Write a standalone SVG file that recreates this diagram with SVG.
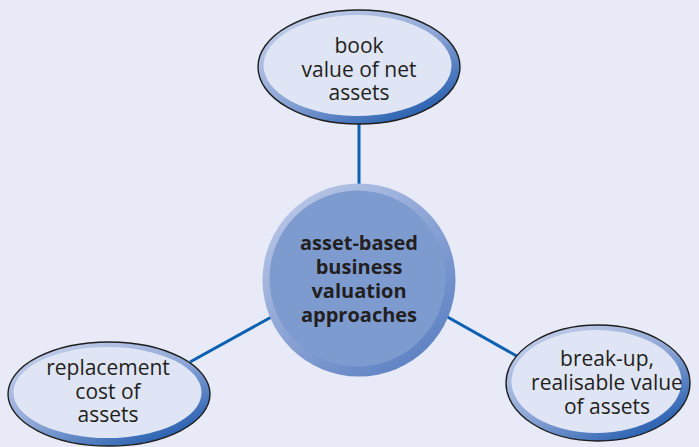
<svg xmlns="http://www.w3.org/2000/svg" width="699" height="447" viewBox="0 0 699 447">
<defs>
<linearGradient id="ring" x1="0.15" y1="0.05" x2="0.85" y2="0.95">
<stop offset="0" stop-color="#c3cfea"/>
<stop offset="0.5" stop-color="#8ea6d6"/>
<stop offset="1" stop-color="#1f5aad"/>
</linearGradient>
<linearGradient id="cring" x1="0.15" y1="0.05" x2="0.85" y2="0.95">
<stop offset="0" stop-color="#b9c7e7"/>
<stop offset="1" stop-color="#5b7fc2"/>
</linearGradient>
<style>
.bg{fill:#e8ebf7}
.ring{fill:url(#ring);stroke:#1e1e1e;stroke-width:1.4}
.inner{fill:#dfe5f4}
.cring{fill:url(#cring)}
.cinner{fill:#7e9bd0}
.conn{stroke:#0b60b2;stroke-width:3;fill:none}
.t{font-family:"Open Sans","Noto Sans","DejaVu Sans",sans-serif;font-size:21px;fill:#231f20;text-anchor:middle}
.tb{font-family:"Open Sans","Noto Sans","DejaVu Sans",sans-serif;font-size:20px;font-weight:bold;fill:#231f20;text-anchor:middle}
</style>
</defs>
<rect class="bg" x="0" y="0" width="699" height="447"/>
<g id="connectors">
<line class="conn" x1="359" y1="120" x2="359" y2="190"/>
<line class="conn" x1="190" y1="362" x2="275" y2="315"/>
<line class="conn" x1="444" y1="315" x2="522" y2="359"/>
</g>
<g id="node-book">
<ellipse class="ring" cx="359" cy="67" rx="101" ry="57"/>
<ellipse class="inner" cx="357.5" cy="65.5" rx="94" ry="50.5"/>
<text class="t" x="359" y="53">book</text>
<text class="t" x="359" y="77">value of net</text>
<text class="t" x="359" y="100">assets</text>
</g>
<g id="node-center">
<circle class="cring" cx="359" cy="280" r="96.5"/>
<circle class="cinner" cx="357.5" cy="278.5" r="88"/>
<text class="tb" x="359" y="250">asset-based</text>
<text class="tb" x="359" y="274">business</text>
<text class="tb" x="359" y="298">valuation</text>
<text class="tb" x="359" y="322">approaches</text>
</g>
<g id="node-replacement">
<ellipse class="ring" cx="109" cy="394" rx="101" ry="52"/>
<ellipse class="inner" cx="107.5" cy="392.5" rx="94" ry="45.5"/>
<text class="t" x="108" y="375">replacement</text>
<text class="t" x="108" y="399">cost of</text>
<text class="t" x="108" y="422">assets</text>
</g>
<g id="node-breakup">
<ellipse class="ring" cx="598" cy="383" rx="92" ry="58"/>
<ellipse class="inner" cx="596.5" cy="381.5" rx="85" ry="51.5"/>
<text class="t" x="607" y="366">break-up,</text>
<text class="t" x="607" y="390">realisable value</text>
<text class="t" x="607" y="414">of assets</text>
</g>
</svg>
